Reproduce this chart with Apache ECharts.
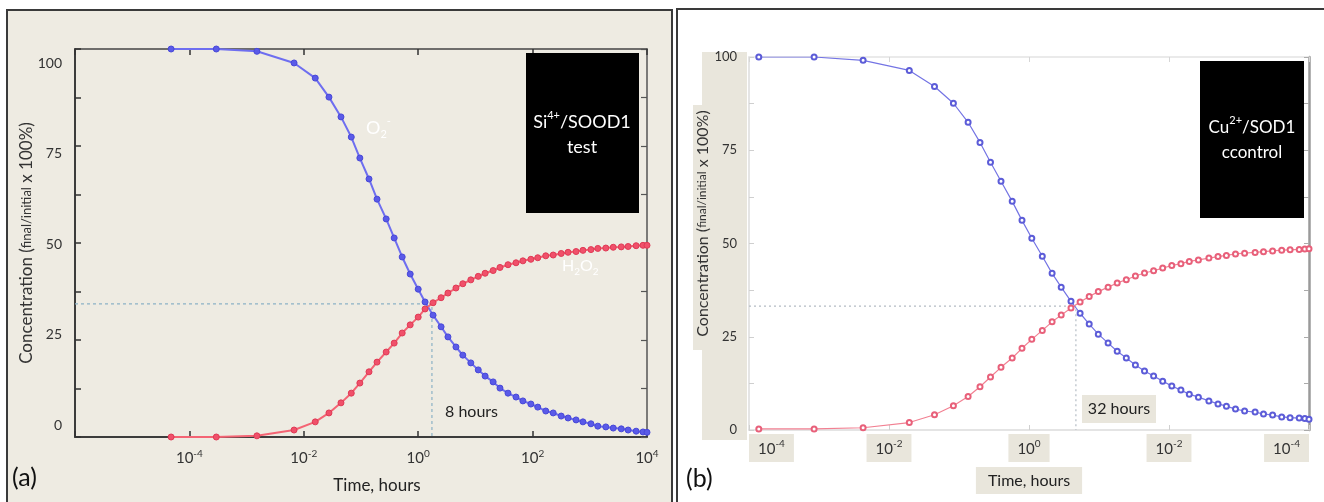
<!DOCTYPE html>
<html>
<head>
<meta charset="utf-8">
<script src="https://cdn.jsdelivr.net/npm/echarts@6/dist/echarts.min.js"></script>
<style>
html, body { margin: 0; padding: 0; background: #fff; }
#main { width: 1324px; height: 502px; }
</style>
</head>
<body>
<div id="main"></div>
<script>
// 数据 =====================================
// (a) Si4+/SOOD1 test -- time as log10(hours)
var logTimeA = [-4.32, -3.53, -2.82, -2.17, -1.80, -1.56, -1.35, -1.17, -1.02, -0.86,
    -0.72, -0.56, -0.42, -0.28, -0.14, 0.00, 0.12, 0.26, 0.40, 0.52,
    0.66, 0.78, 0.92, 1.05, 1.17, 1.31, 1.43, 1.57, 1.71, 1.83,
    1.97, 2.09, 2.23, 2.36, 2.50, 2.62, 2.76, 2.88, 3.02, 3.14,
    3.28, 3.41, 3.55, 3.67, 3.81, 3.93, 4.00];
var o2A = [100, 100, 99.4, 96.4, 92.5, 87.6, 82.5, 77.3, 71.9, 66.5,
    61.3, 56.2, 51.3, 46.4, 42.0, 38.1, 34.8, 31.4, 28.4, 25.8,
    23.2, 21.1, 19.1, 17.3, 15.7, 14.2, 12.6, 11.3, 10.3, 9.3,
    8.5, 7.7, 6.7, 6.2, 5.4, 4.9, 4.4, 3.9, 3.4, 2.8,
    2.6, 2.3, 2.1, 1.8, 1.5, 1.3, 1.2];
var h2o2A = [0, 0, 0.3, 1.8, 3.9, 6.2, 8.8, 11.3, 13.9, 16.8,
    19.3, 21.9, 24.2, 26.8, 28.9, 30.9, 33.0, 34.6, 35.9, 37.1,
    38.4, 39.5, 40.5, 41.4, 42.2, 42.9, 43.7, 44.4, 44.9, 45.4,
    45.8, 46.2, 46.7, 46.9, 47.3, 47.6, 47.8, 48.1, 48.3, 48.6,
    48.7, 48.9, 49.0, 49.1, 49.3, 49.4, 49.4];
var crossA = [0.24, 34.3]; // 8 hours

// (b) Cu2+/SOD1 control
var logTimeB = [-3.86, -3.07, -2.37, -1.71, -1.35, -1.08, -0.87, -0.70, -0.55, -0.40,
    -0.24, -0.10, 0.04, 0.19, 0.33, 0.46, 0.60, 0.73, 0.86, 0.99,
    1.13, 1.26, 1.39, 1.52, 1.65, 1.78, 1.91, 2.04, 2.17, 2.29,
    2.42, 2.57, 2.70, 2.82, 2.95, 3.08, 3.23, 3.35, 3.48, 3.61,
    3.73, 3.86, 3.94, 4.00];
var o2B = [100, 100, 99.1, 96.4, 92.1, 87.6, 82.5, 77.1, 71.8, 66.7,
    61.3, 56.2, 51.4, 46.6, 42.0, 38.3, 34.5, 31.3, 28.4, 25.7,
    23.3, 21.1, 19.3, 17.4, 15.8, 14.5, 13.1, 11.8, 10.7, 9.6,
    8.8, 7.8, 7.0, 6.4, 5.6, 5.1, 4.8, 4.3, 4.0, 3.5,
    3.3, 3.2, 3.1, 2.9];
var h2o2B = [0.3, 0.3, 0.6, 2.0, 4.1, 6.5, 9.0, 11.6, 14.2, 16.8,
    19.3, 21.9, 24.3, 26.7, 29.0, 30.8, 32.7, 34.3, 35.8, 37.1,
    38.3, 39.4, 40.3, 41.3, 42.1, 42.7, 43.4, 44.1, 44.6, 45.2,
    45.6, 46.1, 46.5, 46.8, 47.2, 47.4, 47.6, 47.8, 48.0, 48.2,
    48.3, 48.4, 48.5, 48.6];
var crossB = [0.67, 33.2]; // 32 hours

// 刻度标签
var yTicks = [0, 25, 50, 75, 100];
var xExpA = ['', '-4', '-2', '0', '2', '4'];
var xExpB = ['-4', '-2', '0', '-2', '-4'];

var FONT = 'Lato, "Open Sans", sans-serif';
var BEIGE = '#eeebe2';
var BOX = '#e9e6dc';

var pairs = function(xs, ys) {
    return xs.map(function(x, i) { return [x, ys[i]]; });
};

var chart = echarts.init(document.getElementById('main'));

var yName = '{a|Concentration (}{c|final/initial}{a| x 100%)}';
var nameRichA = {
    a: { fontSize: 17, color: '#333', fontFamily: FONT },
    c: { fontSize: 13, color: '#333', fontFamily: FONT }
};
var nameRichB = {
    a: { fontSize: 16, color: '#333', fontFamily: FONT },
    c: { fontSize: 12, color: '#333', fontFamily: FONT }
};

option = {
    animation: false,
    grid: [
        { left: 75, top: 49, width: 572, height: 388 },
        { left: 749, top: 57, width: 560, height: 373 }
    ],
    graphic: [
        { type: 'rect', z: -10, shape: { x: 7, y: 10, width: 665, height: 500 },
          style: { fill: BEIGE, stroke: '#3a3a3a', lineWidth: 2 } },
        { type: 'rect', z: -10, shape: { x: 677, y: 9, width: 652, height: 500 },
          style: { fill: '#fff', stroke: '#3a3a3a', lineWidth: 2 } },
        { type: 'rect', z: -9, shape: { x: 693, y: 105, width: 54, height: 245 }, style: { fill: BOX } },
        { type: 'rect', z: -9, shape: { x: 702, y: 52, width: 45, height: 388 }, style: { fill: BOX } },
        // 图例黑框
        { type: 'rect', z: 100, shape: { x: 526, y: 53, width: 113, height: 160 }, style: { fill: '#000' } },
        { type: 'text', z: 101, x: 582, y: 135, style: {
            text: '{n|Si}{s|4+}{n|/SOOD1}\n{n|test}', align: 'center', verticalAlign: 'middle',
            rich: {
                n: { fontSize: 18, lineHeight: 25, fill: '#fff', fontFamily: FONT },
                s: { fontSize: 11, lineHeight: 14, verticalAlign: 'top', fill: '#fff', fontFamily: FONT }
            } } },
        { type: 'rect', z: 100, shape: { x: 1200, y: 61, width: 104, height: 157 }, style: { fill: '#000' } },
        { type: 'text', z: 101, x: 1252, y: 140, style: {
            text: '{n|Cu}{s|2+}{n|/SOD1}\n{n|ccontrol}', align: 'center', verticalAlign: 'middle',
            rich: {
                n: { fontSize: 17, lineHeight: 25, fill: '#fff', fontFamily: FONT },
                s: { fontSize: 11, lineHeight: 14, verticalAlign: 'top', fill: '#fff', fontFamily: FONT }
            } } },
        // 曲线标注
        { type: 'text', z: 50, x: 366, y: 128, style: {
            text: '{n|O}{b|2}{t|-}', verticalAlign: 'middle',
            rich: {
                n: { fontSize: 18, lineHeight: 24, fill: '#fff', fontFamily: FONT },
                b: { fontSize: 11, lineHeight: 12, verticalAlign: 'bottom', fill: '#fff', fontFamily: FONT },
                t: { fontSize: 11, lineHeight: 12, verticalAlign: 'top', fill: '#fff', fontFamily: FONT }
            } } },
        { type: 'text', z: 50, x: 562, y: 266, style: {
            text: '{n|H}{b|2}{n|O}{b|2}', verticalAlign: 'middle',
            rich: {
                n: { fontSize: 16, lineHeight: 22, fill: '#fff', fontFamily: FONT },
                b: { fontSize: 10, lineHeight: 11, verticalAlign: 'bottom', fill: '#fff', fontFamily: FONT }
            } } },
        { type: 'text', z: 50, x: 445, y: 412, style: {
            text: '8 hours', fontSize: 16, fill: '#222', fontFamily: FONT, verticalAlign: 'middle' } },
        { type: 'rect', z: 40, shape: { x: 1082, y: 395, width: 74, height: 28 }, style: { fill: BOX } },
        { type: 'text', z: 50, x: 1119, y: 409, style: {
            text: '32 hours', fontSize: 16, fill: '#222', fontFamily: FONT, align: 'center', verticalAlign: 'middle' } },
        { type: 'text', z: 50, x: 12, y: 478, style: {
            text: '(a)', fontSize: 25, fill: '#111', fontFamily: FONT, verticalAlign: 'middle' } },
        { type: 'text', z: 50, x: 686, y: 479, style: {
            text: '(b)', fontSize: 25, fill: '#111', fontFamily: FONT, verticalAlign: 'middle' } }
    ],
    xAxis: [
        {
            gridIndex: 0, type: 'value', min: -6, max: 4, interval: 2, position: 'bottom',
            axisLine: { onZero: false, lineStyle: { color: '#3c3c3c', width: 2 } },
            axisTick: { inside: true, length: 6, lineStyle: { color: '#333', width: 1.5 } },
            splitLine: { show: false },
            axisLabel: {
                margin: 12,
                formatter: function(v, i) {
                    return xExpA[i] ? '{b|10}{s|' + xExpA[i] + '}' : '';
                },
                rich: {
                    b: { fontSize: 15, lineHeight: 18, color: '#333', fontFamily: FONT },
                    s: { fontSize: 10, lineHeight: 11, verticalAlign: 'top', color: '#333', fontFamily: FONT }
                }
            },
            name: 'Time, hours', nameLocation: 'middle', nameGap: 40,
            nameTextStyle: { fontSize: 17, color: '#222', fontFamily: FONT, padding: [0, 0, 0, 32] }
        },
        {
            gridIndex: 0, type: 'value', min: -6, max: 4, interval: 2, position: 'top',
            axisLine: { onZero: false, lineStyle: { color: '#444', width: 1.5 } },
            axisTick: { inside: true, length: 6, lineStyle: { color: '#333', width: 1.5 } },
            axisLabel: { show: false }, splitLine: { show: false }
        },
        {
            gridIndex: 1, type: 'value', min: -4, max: 4, interval: 2, position: 'bottom',
            axisLine: { onZero: false, lineStyle: { color: '#dcdcdc', width: 1.5 } },
            axisTick: { inside: true, length: 5, lineStyle: { color: '#d0d0d0' } },
            splitLine: { show: false },
            axisLabel: {
                margin: 4, backgroundColor: BOX, padding: [5, 9, 3, 9],
                alignMinLabel: 'left', alignMaxLabel: 'right',
                formatter: function(v, i) {
                    return '{b|10}{s|' + xExpB[i] + '}';
                },
                rich: {
                    b: { fontSize: 15, lineHeight: 20, color: '#333', fontFamily: FONT },
                    s: { fontSize: 10, lineHeight: 12, verticalAlign: 'top', color: '#333', fontFamily: FONT }
                }
            },
            name: 'Time, hours', nameLocation: 'middle', nameGap: 33,
            nameTextStyle: { fontSize: 16, color: '#222', fontFamily: FONT,
                backgroundColor: BOX, padding: [6, 12, 5, 12] }
        },
        {
            gridIndex: 1, type: 'value', min: -4, max: 4, interval: 2, position: 'top',
            axisLine: { onZero: false, lineStyle: { color: '#e4e4e4', width: 1.5 } },
            axisTick: { inside: true, length: 5, lineStyle: { color: '#d6d6d6' } },
            axisLabel: { show: false }, splitLine: { show: false }
        }
    ],
    yAxis: [
        {
            gridIndex: 0, type: 'value', min: 0, max: 100, interval: 12.5, position: 'left',
            axisLine: { onZero: false, lineStyle: { color: '#3c3c3c', width: 2 } },
            axisTick: { inside: true, length: 6, lineStyle: { color: '#333', width: 1.5 } },
            axisLabel: { show: false }, splitLine: { show: false },
            name: yName, nameLocation: 'middle', nameGap: 40,
            nameTextStyle: { rich: nameRichA }
        },
        {
            // 只显示刻度数字
            gridIndex: 0, type: 'value', min: -3.3, max: 103.9, position: 'left',
            axisLine: { show: false, onZero: false }, axisTick: { show: false }, splitLine: { show: false },
            axisLabel: { customValues: yTicks, margin: 13, fontSize: 14, color: '#333', fontFamily: FONT }
        },
        {
            gridIndex: 0, type: 'value', min: 0, max: 100, interval: 12.5, position: 'right',
            axisLine: { onZero: false, lineStyle: { color: '#555', width: 1.5 } },
            axisTick: { inside: true, length: 6, lineStyle: { color: '#555', width: 1.2 } },
            axisLabel: { show: false }, splitLine: { show: false }
        },
        {
            gridIndex: 1, type: 'value', min: 0, max: 100, interval: 12.5, position: 'left',
            axisLine: { onZero: false, lineStyle: { color: '#dcdcdc', width: 1.5 } },
            axisTick: { inside: true, length: 5, lineStyle: { color: '#cfcfcf' } },
            splitLine: { show: false },
            axisLabel: {
                margin: 12, fontSize: 13, color: '#333', fontFamily: FONT,
                formatter: function(v) { return yTicks.indexOf(v) > -1 ? v : ''; }
            },
            name: yName, nameLocation: 'middle', nameGap: 32,
            nameTextStyle: { rich: nameRichB, padding: [0, 0, 0, 40] }
        },
        {
            gridIndex: 1, type: 'value', min: 0, max: 100, interval: 12.5, position: 'right',
            axisLine: { onZero: false, lineStyle: { color: '#9a9a9a', width: 2.5 } },
            axisTick: { inside: true, length: 5, lineStyle: { color: '#aaa' } },
            axisLabel: { show: false }, splitLine: { show: false }
        }
    ],
    series: [
        {
            name: 'guideA', type: 'line', xAxisIndex: 0, yAxisIndex: 0, symbol: 'none', z: 1,
            data: [[-6, crossA[1]], crossA, [crossA[0], 0]],
            lineStyle: { color: '#8cb2c6', width: 1.2, type: [3, 3] }
        },
        {
            name: 'O2- (a)', type: 'line', xAxisIndex: 0, yAxisIndex: 0,
            data: pairs(logTimeA, o2A), symbol: 'circle', symbolSize: 6,
            lineStyle: { color: '#6e6ef0', width: 2 },
            itemStyle: { color: '#5a5ae8', borderColor: '#4848d8', borderWidth: 1 }
        },
        {
            name: 'H2O2 (a)', type: 'line', xAxisIndex: 0, yAxisIndex: 0,
            data: pairs(logTimeA, h2o2A), symbol: 'circle', symbolSize: 6,
            lineStyle: { color: '#f46474', width: 2 },
            itemStyle: { color: '#f0506a', borderColor: '#e03a55', borderWidth: 1 }
        },
        {
            name: 'guideB', type: 'line', xAxisIndex: 2, yAxisIndex: 3, symbol: 'none', z: 1,
            data: [[-4, crossB[1]], crossB, [crossB[0], 0]],
            lineStyle: { color: '#b4bcc4', width: 1.2, type: [2, 3] }
        },
        {
            name: 'O2- (b)', type: 'line', xAxisIndex: 2, yAxisIndex: 3,
            data: pairs(logTimeB, o2B), symbol: 'emptyCircle', symbolSize: 5,
            lineStyle: { color: '#7474e4', width: 1.2 },
            itemStyle: { color: '#5c5cd8', borderWidth: 1.2 }
        },
        {
            name: 'H2O2 (b)', type: 'line', xAxisIndex: 2, yAxisIndex: 3,
            data: pairs(logTimeB, h2o2B), symbol: 'emptyCircle', symbolSize: 5,
            lineStyle: { color: '#f28092', width: 1.2 },
            itemStyle: { color: '#e8607a', borderWidth: 1.2 }
        }
    ]
};

chart.setOption(option);
</script>
</body>
</html>
